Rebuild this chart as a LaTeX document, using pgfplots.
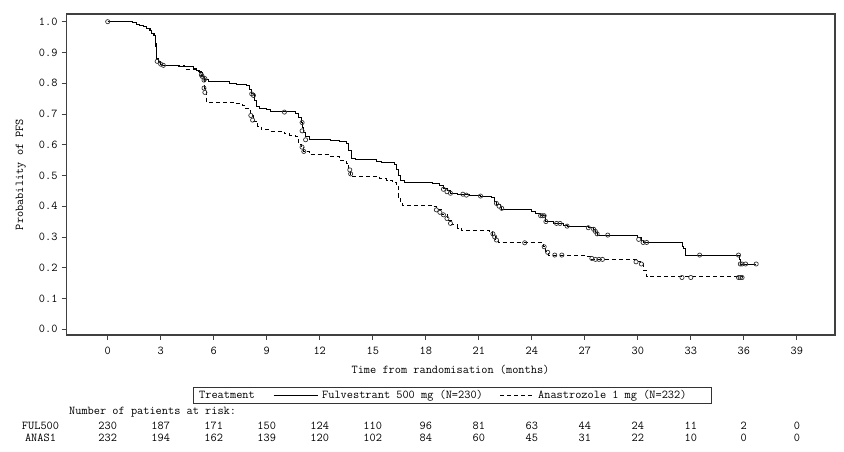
\documentclass[border=0pt]{standalone}
\usepackage{pgfplots}
\pgfplotsset{compat=1.18}
\begin{document}
\ttfamily\fontsize{12bp}{14bp}\selectfont
\begin{tikzpicture}[font=\ttfamily\fontsize{12bp}{14bp}\selectfont]
\path[use as bounding box] (0,0) rectangle (844bp,452bp);
\begin{axis}[
  at={(66.7bp,117bp)}, anchor=south west,
  scale only axis, width=768.3bp, height=321bp,
  xmin=-2.32, xmax=41.16, ymin=-0.0189, ymax=1.025,
  xtick={0,3,6,9,12,15,18,21,24,27,30,33,36,39},
  ytick={0,0.1,0.2,0.3,0.4,0.5,0.6,0.7,0.8,0.9,1.0},
  yticklabel style={/pgf/number format/.cd, fixed, fixed zerofill, precision=1},
  xticklabel style={yshift=-3bp},
  ticklabel style={font=\ttfamily\fontsize{12bp}{14bp}\selectfont},
  /pgf/number format/assume math mode=true,
  tick align=outside, tick pos=left, major tick length=5bp,
  axis line style={line width=1.2bp, color=black!75},
  every tick/.style={black!75, line width=0.8bp},
  clip=false,
]
% Fulvestrant 500 mg
\addplot[const plot, black, line width=0.9bp] coordinates {
(0,1.000) (1.4,0.996) (1.6,0.991) (1.8,0.987) (2.0,0.983) (2.2,0.978) (2.35,0.970) (2.5,0.963) (2.6,0.955) (2.68,0.947)
(2.72,0.920) (2.75,0.895) (2.78,0.878) (2.85,0.871) (3.0,0.862) (3.1,0.858) (4.0,0.856) (4.66,0.853) (4.85,0.848) (5.0,0.842)
(5.2,0.835) (5.35,0.822) (5.5,0.811) (5.7,0.806) (6.9,0.800) (7.3,0.797) (7.85,0.792) (8.0,0.780) (8.15,0.765) (8.3,0.745)
(8.4,0.724) (8.6,0.719) (9.0,0.713) (9.2,0.708) (10.6,0.703) (10.8,0.690) (10.95,0.672) (11.0,0.655) (11.1,0.640) (11.2,0.626)
(11.4,0.616) (12.6,0.613) (13.1,0.610) (13.5,0.605) (13.65,0.580) (13.8,0.556) (14.0,0.552) (15.2,0.547) (15.5,0.542) (16.2,0.537)
(16.35,0.520) (16.45,0.500) (16.55,0.485) (16.8,0.478) (18.4,0.474) (18.8,0.469) (19.0,0.458) (19.2,0.450) (19.4,0.442) (19.8,0.439)
(20.5,0.436) (21.1,0.433) (21.7,0.428) (21.9,0.415) (22.0,0.405) (22.2,0.395) (22.3,0.389) (24.0,0.383) (24.2,0.377) (24.5,0.369)
(24.8,0.350) (25.2,0.344) (25.8,0.337) (26.0,0.335) (27.2,0.330) (27.5,0.325) (27.6,0.314) (27.7,0.306) (30.0,0.298) (30.2,0.290)
(30.3,0.282) (32.5,0.270) (32.6,0.263) (32.7,0.241) (35.75,0.226) (35.8,0.212) (36.7,0.212)
};
% Anastrozole 1 mg
\addplot[const plot, black, line width=0.9bp, dash pattern=on 4bp off 3bp] coordinates {
(0,1.000) (1.4,0.996) (1.6,0.991) (1.8,0.987) (2.0,0.983) (2.2,0.978) (2.4,0.972) (2.55,0.962) (2.65,0.950) (2.7,0.930)
(2.74,0.900) (2.78,0.880) (2.85,0.868) (3.0,0.860) (3.1,0.858) (4.37,0.846) (5.1,0.838) (5.3,0.822) (5.4,0.811) (5.5,0.784)
(5.6,0.738) (7.2,0.733) (7.6,0.728) (7.8,0.718) (7.96,0.710) (8.1,0.695) (8.25,0.675) (8.5,0.660) (8.7,0.648) (9.2,0.642)
(10.0,0.635) (10.3,0.630) (10.6,0.626) (10.8,0.600) (10.95,0.590) (11.1,0.578) (11.4,0.567) (12.6,0.561) (13.1,0.550) (13.5,0.540)
(13.65,0.518) (13.75,0.498) (15.4,0.491) (15.8,0.485) (16.1,0.478) (16.35,0.469) (16.45,0.430) (16.55,0.409) (16.7,0.404) (18.3,0.398)
(18.6,0.388) (18.9,0.372) (19.2,0.355) (19.45,0.339) (19.8,0.328) (20.0,0.322) (21.6,0.317) (21.8,0.306) (21.95,0.290) (22.1,0.281)
(24.65,0.268) (24.8,0.252) (24.95,0.241) (27.1,0.236) (27.4,0.227) (29.9,0.219) (30.15,0.214) (30.3,0.192) (30.5,0.170) (35.9,0.168)
};
% censoring marks
\addplot[only marks, mark=o, mark size=2.1bp, mark options={draw=black!80, line width=0.7bp}] coordinates {
(0,1.0) (2.8,0.871) (3.0,0.862) (3.15,0.858) (5.3,0.827) (5.5,0.815) (8.15,0.765) (8.25,0.760) (10.0,0.706) (11.0,0.672)
(11.0,0.645) (11.2,0.616) (19.0,0.455) (19.2,0.447) (19.4,0.442) (20.1,0.439) (20.3,0.436) (21.1,0.433) (22.0,0.409) (22.15,0.400)
(22.3,0.393) (24.5,0.369) (24.6,0.369) (24.7,0.369) (24.8,0.350) (25.4,0.344) (25.6,0.344) (26.0,0.335) (27.2,0.330) (27.5,0.325)
(27.6,0.318) (27.7,0.310) (28.3,0.306) (30.05,0.292) (30.3,0.282) (30.5,0.282) (33.5,0.241) (35.7,0.241) (35.8,0.212) (35.9,0.212)
(36.1,0.212) (36.7,0.212)
};
\addplot[only marks, mark=o, mark size=2.1bp, mark options={draw=black!80, line width=0.7bp}] coordinates {
(5.35,0.822) (5.45,0.810) (5.45,0.784) (5.5,0.770) (8.1,0.695) (8.2,0.680) (11.0,0.592) (11.1,0.578) (13.7,0.518) (13.75,0.505)
(18.6,0.388) (18.8,0.380) (19.0,0.372) (19.2,0.360) (19.4,0.344) (21.8,0.310) (21.9,0.300) (22.0,0.290) (23.6,0.281) (24.7,0.268)
(24.9,0.250) (25.3,0.241) (25.7,0.241) (27.4,0.230) (27.6,0.227) (27.8,0.227) (28.0,0.227) (29.9,0.219) (30.2,0.212) (32.5,0.168)
(33.0,0.168) (35.7,0.168) (35.8,0.168) (35.9,0.168)
};
% axis labels
\node[anchor=base] at (axis cs:19.4,-0.144) {Time from randomisation (months)};
\node[rotate=90, anchor=center] at (axis cs:-4.92,0.503) {Probability of PFS};
\end{axis}
% risk table
\node[anchor=base west, inner sep=0] at (69bp,38bp) {Number of patients at risk:};
\node[anchor=base, inner sep=0] at (40.5bp,23bp) {FUL500};
\node[anchor=base, inner sep=0] at (40.5bp,10.7bp) {ANAS1};
\foreach \xx/\pp/\qq in {0/230/232, 3/187/194, 6/171/162, 9/150/139, 12/124/120, 15/110/102, 18/96/84, 21/81/60, 24/63/45, 27/44/31, 30/24/22, 33/11/10, 36/2/0, 39/0/0} {
  \node[anchor=base, inner sep=0] at ({107.7bp+17.67bp*\xx},23bp) {\pp};
  \node[anchor=base, inner sep=0] at ({107.7bp+17.67bp*\xx},10.7bp) {\qq};
}
% legend
\draw[line width=0.8bp, black!80] (193bp,49bp) rectangle (711bp,64.3bp);
\node[anchor=base west, inner sep=0] at (199bp,53bp) {Treatment};
\draw[line width=0.8bp] (273.5bp,57bp) -- (317.7bp,57bp);
\node[anchor=base west, inner sep=0] at (322bp,53bp) {Fulvestrant 500 mg (N=230)};
\draw[line width=0.8bp, dash pattern=on 4bp off 3bp] (500bp,57bp) -- (534bp,57bp);
\node[anchor=base west, inner sep=0] at (538bp,53bp) {Anastrozole 1 mg (N=232)};
\end{tikzpicture}
\end{document}
